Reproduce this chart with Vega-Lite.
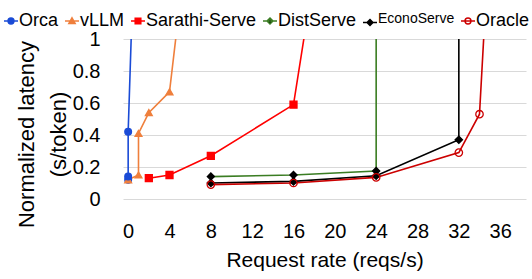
{
  "$schema": "https://vega.github.io/schema/vega-lite/v6.json",
  "width": 403,
  "height": 160,
  "autosize": {"type": "none"},
  "padding": {"left": 123, "top": 39, "right": 6, "bottom": 80},
  "background": "white",
  "config": {
    "view": {"stroke": null},
    "font": "Liberation Sans",
    "axis": {"labelColor": "black", "titleColor": "black", "titleFontWeight": "normal", "domain": false, "ticks": false}
  },
  "data": {
    "values": [
      {"s": "Orca", "o": 1, "x": 0, "y": 0.12},
      {"s": "Orca", "o": 2, "x": 0, "y": 0.14},
      {"s": "Orca", "o": 3, "x": 0, "y": 0.42},
      {"s": "Orca", "o": 4, "x": 0.5, "y": 1.42},
      {"s": "vLLM", "o": 1, "x": 0, "y": 0.12},
      {"s": "vLLM", "o": 2, "x": 1, "y": 0.15},
      {"s": "vLLM", "o": 3, "x": 1, "y": 0.41},
      {"s": "vLLM", "o": 4, "x": 2, "y": 0.54},
      {"s": "vLLM", "o": 5, "x": 4, "y": 0.67},
      {"s": "vLLM", "o": 6, "x": 5, "y": 1.22},
      {"s": "Sarathi-Serve", "o": 1, "x": 2, "y": 0.13},
      {"s": "Sarathi-Serve", "o": 2, "x": 4, "y": 0.15},
      {"s": "Sarathi-Serve", "o": 3, "x": 8, "y": 0.27},
      {"s": "Sarathi-Serve", "o": 4, "x": 16, "y": 0.59},
      {"s": "Sarathi-Serve", "o": 5, "x": 18, "y": 1.41},
      {"s": "DistServe", "o": 1, "x": 8, "y": 0.14},
      {"s": "DistServe", "o": 2, "x": 16, "y": 0.15},
      {"s": "DistServe", "o": 3, "x": 24, "y": 0.175},
      {"s": "DistServe", "o": 4, "x": 24, "y": 1.5},
      {"s": "EconoServe", "o": 1, "x": 8, "y": 0.1},
      {"s": "EconoServe", "o": 2, "x": 16, "y": 0.11},
      {"s": "EconoServe", "o": 3, "x": 24, "y": 0.145},
      {"s": "EconoServe", "o": 4, "x": 32, "y": 0.37},
      {"s": "EconoServe", "o": 5, "x": 32, "y": 1.5},
      {"s": "Oracle", "o": 1, "x": 8, "y": 0.09},
      {"s": "Oracle", "o": 2, "x": 16, "y": 0.1},
      {"s": "Oracle", "o": 3, "x": 24, "y": 0.135},
      {"s": "Oracle", "o": 4, "x": 32, "y": 0.29},
      {"s": "Oracle", "o": 5, "x": 34, "y": 0.53},
      {"s": "Oracle", "o": 6, "x": 35, "y": 1.7}
    ]
  },
  "encoding": {
    "x": {
      "field": "x", "type": "quantitative",
      "scale": {"domain": [-0.5, 38.5], "nice": false, "zero": false},
      "axis": {"values": [0, 4, 8, 12, 16, 20, 24, 28, 32, 36], "grid": false, "labelFontSize": 20, "labelPadding": 22, "title": "Request rate (reqs/s)", "titleFontSize": 21, "titlePadding": 8}
    },
    "y": {
      "field": "y", "type": "quantitative",
      "scale": {"domain": [0, 1], "nice": false},
      "axis": {"values": [0, 0.2, 0.4, 0.6, 0.8, 1], "format": ".1~f", "grid": true, "gridColor": "#d9d9d9", "labelFontSize": 20, "labelPadding": 23, "title": ["Normalized latency", "(s/token)"], "titleFontSize": 22, "titleLineHeight": 32, "titlePadding": 2, "titleY": 95}
    },
    "order": {"field": "o", "type": "quantitative"}
  },
  "layer": [
    {
      "mark": {"type": "line", "clip": true, "strokeWidth": 1.6},
      "encoding": {
        "stroke": {"field": "s", "type": "nominal", "legend": null,
          "scale": {"domain": ["Orca", "vLLM", "Sarathi-Serve", "DistServe", "EconoServe", "Oracle"], "range": ["#1a4bd6", "#ef7f3c", "#ff0000", "#3b7d23", "#000000", "#cc0000"]}}
      }
    },
    {
      "mark": {"type": "point", "clip": true, "opacity": 1, "strokeWidth": 1.3},
      "encoding": {
        "shape": {"field": "s", "type": "nominal", "legend": null,
          "scale": {"domain": ["Orca", "vLLM", "Sarathi-Serve", "DistServe", "EconoServe", "Oracle"], "range": ["circle", "triangle-up", "square", "diamond", "diamond", "circle"]}},
        "size": {"field": "s", "type": "nominal", "legend": null,
          "scale": {"domain": ["Orca", "vLLM", "Sarathi-Serve", "DistServe", "EconoServe", "Oracle"], "range": [45, 55, 60, 45, 45, 50]}},
        "fill": {"field": "s", "type": "nominal", "legend": null,
          "scale": {"domain": ["Orca", "vLLM", "Sarathi-Serve", "DistServe", "EconoServe", "Oracle"], "range": ["#1a4bd6", "#ef7f3c", "#ff0000", "#000000", "#000000", "transparent"]}},
        "stroke": {"field": "s", "type": "nominal", "legend": null,
          "scale": {"domain": ["Orca", "vLLM", "Sarathi-Serve", "DistServe", "EconoServe", "Oracle"], "range": ["#1a4bd6", "#ef7f3c", "#ff0000", "#000000", "#000000", "#cc0000"]}}
      }
    },
    {
      "transform": [{"filter": "datum.y > 1"}],
      "mark": {"type": "point", "clip": true, "opacity": 1, "strokeWidth": 1.5},
      "encoding": {
        "shape": {"field": "s", "type": "nominal", "title": null,
          "scale": {"domain": ["Orca", "vLLM", "Sarathi-Serve", "DistServe", "EconoServe", "Oracle"], "range": [
            "M-1,0H1M-0.42,0A0.42,0.42,0,1,0,0.42,0A0.42,0.42,0,1,0,-0.42,0Z",
            "M-1,0H1M0,-0.45L0.45,0.35L-0.45,0.35Z",
            "M-1,0H1M-0.4,-0.4H0.4V0.4H-0.4Z",
            "M-1,0H1M0,-0.42L0.42,0L0,0.42L-0.42,0Z",
            "M-1,0H1M0,-0.42L0.42,0L0,0.42L-0.42,0Z",
            "M-1,0H1M-0.42,0A0.42,0.42,0,1,0,0.42,0A0.42,0.42,0,1,0,-0.42,0Z"
          ]},
          "legend": {"orient": "none", "legendX": -121, "legendY": -27, "direction": "horizontal", "symbolSize": 196, "symbolStrokeWidth": 1.5, "symbolOpacity": 1, "labelOffset": -1, "columnPadding": 3, "padding": 0, "labelColor": "black", "labelFontSize": {"expr": "datum.label == 'EconoServe' ? 14 : 18"}, "labelBaseline": {"expr": "datum.label == 'EconoServe' ? 'alphabetic' : 'middle'"}}},
        "fill": {"field": "s", "type": "nominal", "title": null,
          "scale": {"domain": ["Orca", "vLLM", "Sarathi-Serve", "DistServe", "EconoServe", "Oracle"], "range": ["#1a4bd6", "#ef7f3c", "#ff0000", "#000000", "#000000", "transparent"]},
          "legend": {"orient": "none", "legendX": -121, "legendY": -27, "direction": "horizontal", "symbolSize": 196, "symbolStrokeWidth": 1.5, "symbolOpacity": 1, "labelOffset": -1, "columnPadding": 3, "padding": 0, "labelColor": "black", "labelFontSize": {"expr": "datum.label == 'EconoServe' ? 14 : 18"}, "labelBaseline": {"expr": "datum.label == 'EconoServe' ? 'alphabetic' : 'middle'"}}},
        "stroke": {"field": "s", "type": "nominal", "title": null,
          "scale": {"domain": ["Orca", "vLLM", "Sarathi-Serve", "DistServe", "EconoServe", "Oracle"], "range": ["#1a4bd6", "#ef7f3c", "#ff0000", "#3b7d23", "#000000", "#cc0000"]},
          "legend": {"orient": "none", "legendX": -121, "legendY": -27, "direction": "horizontal", "symbolSize": 196, "symbolStrokeWidth": 1.5, "symbolOpacity": 1, "labelOffset": -1, "columnPadding": 3, "padding": 0, "labelColor": "black", "labelFontSize": {"expr": "datum.label == 'EconoServe' ? 14 : 18"}, "labelBaseline": {"expr": "datum.label == 'EconoServe' ? 'alphabetic' : 'middle'"}}}
      }
    }
  ],
  "resolve": {"scale": {"shape": "independent", "fill": "independent", "stroke": "independent", "size": "independent"}}
}
